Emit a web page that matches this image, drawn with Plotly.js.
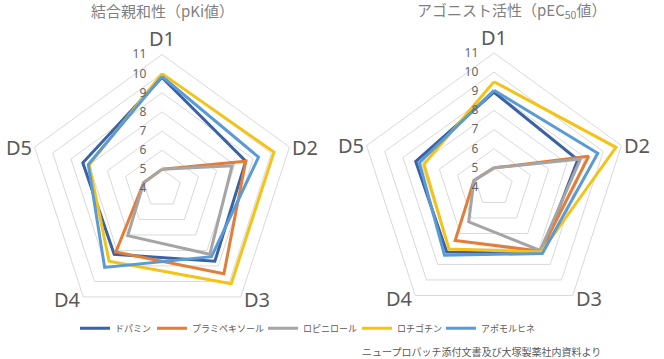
<!DOCTYPE html>
<html>
<head>
<meta charset="utf-8">
<script src="https://cdn.plot.ly/plotly-3.0.1.min.js"></script>
<style>html,body{margin:0;padding:0;background:#fff;}#chart{width:664px;height:359px;}</style>
</head>
<body>
<div id="chart"></div>
<script>
var categories = ["D1", "D2", "D3", "D4", "D5"];
var seriesNames = ["ドパミン", "プラミペキソール", "ロピニロール", "ロチゴチン", "アポモルヒネ"];
var seriesColors = ["#3B62A3", "#E27D3A", "#A5A5A5", "#F5C216", "#5B9BD5"];

// 結合親和性（pKi値）
var pKi_dopamine     = [9.8, 8.6, 8.7, 8.25, 8.35];
var pKi_pramipexole  = [5.0, 8.6, 9.5, 8.1, 5.0];
var pKi_ropinirole   = [5.0, 7.85, 8.25, 7.05, 5.0];
var pKi_rotigotine   = [10.0, 10.15, 10.15, 8.7, 8.0];
var pKi_apomorphine  = [9.85, 9.3, 8.4, 9.1, 8.05];

// アゴニスト活性（pEC50値）
var pEC50_dopamine    = [8.95, 8.6, 8.25, 8.2, 8.3];
var pEC50_pramipexole = [5.0, 9.2, 8.15, 7.45, 5.1];
var pEC50_ropinirole  = [5.0, 8.75, 8.1, 6.25, 5.1];
var pEC50_rotigotine  = [9.5, 10.7, 8.2, 8.0, 7.85];
var pEC50_apomorphine = [9.05, 9.7, 8.3, 8.4, 8.1];

var radialTicks = [4, 5, 6, 7, 8, 9, 10, 11];
var radialRange = [4, 11];

var leftSets = [pKi_dopamine, pKi_pramipexole, pKi_ropinirole, pKi_rotigotine, pKi_apomorphine];
var rightSets = [pEC50_dopamine, pEC50_pramipexole, pEC50_ropinirole, pEC50_rotigotine, pEC50_apomorphine];

function closeLoop(a) { return a.concat([a[0]]); }
var legendIds = ["legend", "legend2", "legend3", "legend4", "legend5"];

var latin = "'Noto Sans', 'Noto Sans CJK JP', sans-serif";
var cjk = "'Noto Sans CJK JP', 'Noto Sans', sans-serif";
var W = 664, H = 359;

var traces = [];
leftSets.forEach(function (vals, i) {
  traces.push({
    type: "scatterpolar", mode: "lines", subplot: "polar",
    r: closeLoop(vals), theta: closeLoop(categories),
    name: seriesNames[i], legend: legendIds[i], showlegend: true,
    line: {color: seriesColors[i], width: 3}, hoverinfo: "skip"
  });
});
rightSets.forEach(function (vals, i) {
  traces.push({
    type: "scatterpolar", mode: "lines", subplot: "polar2",
    r: closeLoop(vals), theta: closeLoop(categories),
    name: seriesNames[i], showlegend: false,
    line: {color: seriesColors[i], width: 3}, hoverinfo: "skip"
  });
});

// polar subplot boxes in pixels: [left, top, size]
var boxes = {polar: [28, 54.5, 268], polar2: [360, 53, 268]};

function polarCfg(b) {
  return {
    domain: {x: [b[0] / W, (b[0] + b[2]) / W], y: [1 - (b[1] + b[2]) / H, 1 - b[1] / H]},
    gridshape: "linear",
    bgcolor: "rgba(0,0,0,0)",
    angularaxis: {
      type: "category", categoryarray: categories, direction: "clockwise", rotation: 90,
      showgrid: false, showline: true, linecolor: "#d9d9d9", linewidth: 1,
      ticks: "", showticklabels: false
    },
    radialaxis: {
      range: radialRange, tickvals: radialTicks, angle: 90, tickangle: 90,
      showline: false, gridcolor: "#d9d9d9", gridwidth: 1,
      ticks: "outside", ticklen: 11, tickcolor: "rgba(0,0,0,0)",
      side: "counterclockwise",
      tickfont: {family: latin, size: 12, color: "#666666"}
    }
  };
}

var legendLeftPx = [75, 152, 263, 357, 441];

var layout = {
  width: W, height: H,
  margin: {l: 0, r: 0, t: 0, b: 0},
  paper_bgcolor: "#ffffff",
  showlegend: true,
  polar: polarCfg(boxes.polar),
  polar2: polarCfg(boxes.polar2),
  annotations: [
    {text: "結合親和性（pKi値）", x: 162, y: 10, font: {family: cjk, size: 15, color: "#7f7f7f"}},
    {text: "アゴニスト活性（pEC<sub>50</sub>値）", x: 511, y: 10, font: {family: cjk, size: 15, color: "#7f7f7f"}},
    {text: "ニュープロパッチ添付文書及び大塚製薬社内資料より", x: 481, y: 351, font: {family: cjk, size: 10, color: "#595959"}}
  ]
};

// category labels placed just outside each vertex of the outer ring
Object.keys(boxes).forEach(function (sp) {
  var b = boxes[sp], cx = b[0] + b[2] / 2, cy = b[1] + b[2] / 2, R = b[2] / 2;
  categories.forEach(function (c, k) {
    var a = (90 - 72 * k) * Math.PI / 180;
    var vx = cx + R * Math.cos(a), vy = cy - R * Math.sin(a);
    var lx = vx, ly = vy;
    if (k === 0) { ly = vy - 16; }
    else { lx = vx + (Math.cos(a) > 0 ? 16 : -16); ly = vy + (Math.sin(a) < 0 ? 3 : 0); }
    layout.annotations.push({text: c, x: lx, y: ly, font: {family: latin, size: 20, color: "#595959"}});
  });
});

layout.annotations.forEach(function (a) {
  a.xref = "paper"; a.yref = "paper"; a.showarrow = false;
  a.x = a.x / W; a.y = 1 - a.y / H;
  a.xanchor = "center"; a.yanchor = "middle";
});
legendIds.forEach(function (id, i) {
  layout[id] = {
    orientation: "h", x: legendLeftPx[i] / W, y: 0.086, xanchor: "left", yanchor: "middle",
    font: {family: cjk, size: 9, color: "#595959"},
    itemwidth: 30, bgcolor: "rgba(0,0,0,0)", borderwidth: 0
  };
});

Plotly.newPlot("chart", traces, layout, {displayModeBar: false, staticPlot: true});
</script>
</body>
</html>
